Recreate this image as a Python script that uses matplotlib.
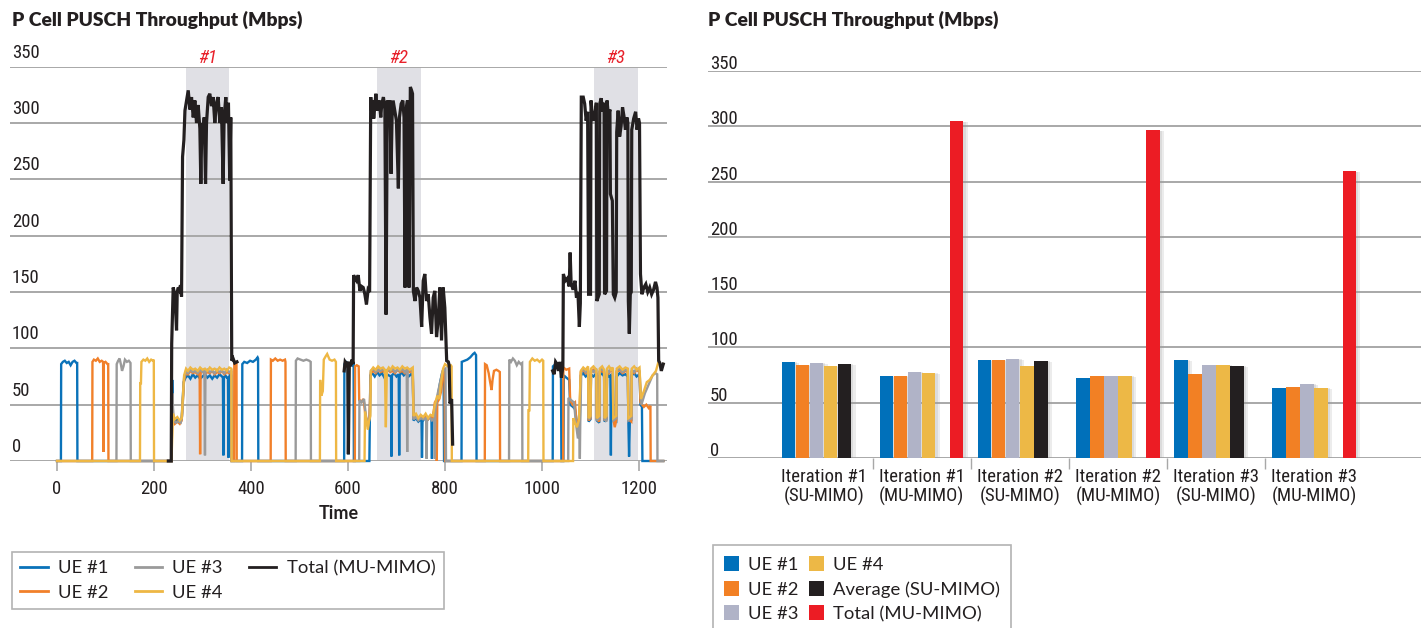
import numpy as np
import matplotlib
matplotlib.use("Agg")
import matplotlib.pyplot as plt
import matplotlib.transforms as mtransforms
import matplotlib.patheffects as pe
from matplotlib import font_manager
from matplotlib.patches import Patch
from matplotlib.lines import Line2D

# ---------------- fonts ----------------
_names = {f.name for f in font_manager.fontManager.ttflist}
def pick(cands):
    for c in cands:
        if c in _names:
            return c
    return "DejaVu Sans"
COND = pick(["Liberation Sans Narrow", "Roboto Condensed", "Open Sans Condensed", "Liberation Sans"])
SANS = pick(["Lato", "Open Sans", "Noto Sans"])

# ---------------- data: left chart (time series) ----------------
ue1 = [(0,0),(8,0),(8.5,86),(12,88),(16,89),(20,87),(24,88),(28,85),(32,88),(36,89),(40,87),(41.5,87),(42,0),
(236,0),(237.5,72),(239,40),(243,36),(248,37),(253,35),(257,38),(261,70),(265,74),(270,76),(275,73),(280,77),(285,74),(290,76),(295,73),(300,75),(305,77),(310,74),(315,76),(320,73),(325,76),(330,74),(335,77),(340,75),(342,74),(343,5),(344,74),(347,76),(350,74),(352.5,74),(353.5,3),(354.5,73),(357,78),(359.5,76),(360,0),
(381.5,0),(382,86),(386,88),(392,87),(398,89),(404,88),(410,90),(413.5,92),(414.5,91),(415,0),
(592,0),(592.5,86),(596,88),(599.5,87),(600.5,6),(601.5,86),(606,87),(610,85),(611.5,86),(612,0),
(644,0),(646,76),(650,78),(655,75),(660,79),(665,76),(670,78),(675,74),(680,77),(684,76),(688.5,75),(689.5,4),(690.5,76),(695,78),(700,75),(704.5,77),(705.5,5),(706.5,76),(710,79),(715,76),(720,78),(725,75),(730,77),(733.5,76),(735,36),(740,38),(745,35),(750,37),(751.5,36),(752.5,3),(753.5,35),(758,38),(763,36),(768,39),(772,37),(773,2),(774,38),(778,45),(782,52),(786,60),(790,70),(794,78),(797,80),(798,0),
(834,0),(834.5,88),(840,89),(846,90),(852,92),(858,95),(861,96),(864,94),(865,0),
(1022,0),(1022.5,84),(1028,86),(1034,84),(1039,85),(1040,0),(1044,0),(1045,76),(1050,74),(1056,72),(1058,50),(1064,48),(1068,46),(1072,34),(1078,36),(1080,76),(1085,78),(1090,75),(1095,77),(1096,35),(1100,37),(1101,77),(1106,75),(1112,78),(1113,36),(1118,34),(1119,76),(1124,78),(1128,75),(1129,35),(1133,37),(1134,77),(1138,75),(1141,76),(1142,5),(1143,74),(1146,76),(1147,36),(1153,35),(1154,75),(1160,78),(1166,76),(1172,77),(1177,75),(1178,36),(1179.5,4),(1181,35),(1184,36),(1185,76),(1190,78),(1195,75),(1201,77),(1203,50),(1206,48),(1207,0),(1250,0)]

ue2 = [(0,0),(72.5,0),(73,88),(76,90),(80,89),(84,91),(88,88),(92,89),(95,88),(95.5,8),(96.5,87),(100,88),(104,86),(105.5,86),(106,0),
(236,0),(238,55),(239.5,38),(243,33),(248,35),(253,33),(257,36),(262,72),(266,79),(270,77),(275,80),(280,78),(285,79),(290,77),(294,78),(295,6),(296,78),(300,80),(305,77),(310,79),(315,78),(320,80),(325,77),(330,79),(335,78),(340,80),(345,77),(350,79),(355,78),(359.5,80),(360,0),
(365,0),(365.5,88),(370,88),(370.5,0),
(440.5,0),(441,90),(445,89),(450,91),(455,89),(460,90),(465,89),(470,90),(471,88),(471.5,0),
(614,0),(614.5,84),(618,85),(622,84),(623,54),(628,53),(632,55),(636,40),(640,35),(644,38),(647,78),(652,80),(657,78),(662,81),(667,79),(672,80),(677,78),(682,81),(687,79),(692,80),(697,78),(702,81),(707,79),(712,80),(717,78),(722,81),(727,79),(733.5,80),(735,38),(740,40),(745,37),(750,39),(755,38),(760,40),(765,37),(770,39),(775,38),(779,52),(782,54),(783,0),(784,52),(788,55),(792,62),(796,80),(799,82),(800,0),
(882,0),(882.5,86),(886,85),(890,78),(893,70),(896,63),(898,72),(901,80),(906,81),(910,80),(913,79),(913.5,0),
(1043.5,0),(1044,83),(1050,81),(1056,82),(1058,54),(1063,50),(1068,52),(1071,34),(1077,37),(1080,79),(1085,81),(1090,78),(1095,80),(1096,36),(1100,38),(1101,79),(1106,81),(1112,78),(1113,37),(1118,35),(1119,79),(1124,80),(1128,78),(1129,36),(1133,38),(1134,80),(1138,78),(1142,81),(1146,79),(1147,37),(1150,30),(1153,36),(1154,79),(1160,81),(1166,78),(1172,80),(1177,79),(1178,37),(1184,35),(1185,80),(1190,78),(1195,81),(1201,79),(1203,52),(1210,48),(1215,50),(1220,47),(1223.5,49),(1224,0),(1250,0)]

ue3 = [(0,0),(122.5,0),(123,86),(126,89),(129,91),(132,85),(134,80),(137,84),(140,90),(144,88),(148,89),(151.5,87),(152,0),
(236,0),(238,60),(240,36),(245,34),(250,35),(255,34),(258,40),(262,74),(266,80),(270,78),(275,81),(280,79),(285,80),(290,78),(295,81),(300,79),(304,80),(305,5),(306,79),(310,81),(315,79),(320,80),(325,78),(330,81),(335,79),(340,80),(345,78),(350,81),(355,79),(359.5,80),(360,0),
(492,0),(492.5,89),(496,91),(502,90),(508,89),(514,90),(520,89),(523,88),(523.5,0),
(623,0),(623.5,54),(628,52),(633,55),(637,40),(641,30),(645,40),(647,80),(652,82),(657,79),(662,81),(667,80),(672,82),(677,79),(682,81),(687,80),(692,82),(697,79),(702,81),(707,80),(712,82),(717,79),(721,81),(722,8),(723,80),(727,81),(733.5,80),(735,37),(740,39),(745,36),(750,38),(755,37),(761,38),(762,2),(763,37),(768,39),(773,36),(778,38),(779,2),(780,45),(785,60),(790,70),(795,80),(801,82),(802,0),
(932,0),(932.5,90),(936,88),(940,91),(944,89),(948,85),(952,88),(956,86),(959,87),(959.5,0),
(1054,0),(1054.5,56),(1060,54),(1066,52),(1070,33),(1074,20),(1077,34),(1078,2),(1079,40),(1081,80),(1085,82),(1090,79),(1095,81),(1096,37),(1100,39),(1101,81),(1106,79),(1112,82),(1113,36),(1118,38),(1119,80),(1124,82),(1128,79),(1129,37),(1133,35),(1134,81),(1138,79),(1142,82),(1146,80),(1147,36),(1153,38),(1154,80),(1160,82),(1166,79),(1172,81),(1177,80),(1178,36),(1184,38),(1185,81),(1190,79),(1195,82),(1201,80),(1205,50),(1212,60),(1220,68),(1228,76),(1234,78),(1237.5,77),(1238,0),(1250,0)]

ue4 = [(0,0),(171,0),(171.5,69),(173,69),(174,88),(178,90),(182,89),(186,91),(190,88),(194,90),(198,89),(199.5,90),(200,0),
(236,0),(239,42),(243,37),(248,39),(253,36),(257,38),(262,76),(266,82),(270,80),(275,83),(280,81),(285,82),(290,80),(295,83),(300,81),(305,82),(310,80),(315,83),(320,81),(325,82),(330,80),(335,83),(340,81),(345,82),(350,80),(355,83),(359.5,82),(360,0),
(542,0),(542.5,72),(545,58),(548,62),(550,90),(554,93),(557,95),(562,90),(567,89),(572,90),(575,88),(575.5,0),
(634,0),(635,44),(638,36),(641,28),(643,35),(646,40),(647,80),(652,83),(657,81),(662,84),(667,82),(672,83),(676,81),(678,30),(680,80),(684,83),(688,81),(692,84),(697,82),(702,83),(707,81),(712,84),(717,82),(722,83),(727,81),(733.5,83),(735,40),(740,42),(745,38),(750,41),(755,39),(760,42),(765,38),(770,41),(775,40),(779,50),(784,58),(788,55),(792,70),(796,82),(800,86),(806,84),(812,85),(813.5,84),(814,0),
(971.5,0),(972,45),(974,45),(975,88),(980,91),(985,89),(990,90),(995,88),(1000,90),(1002.5,89),(1003,0),
(1064,0),(1064.5,38),(1068,34),(1072,30),(1076,36),(1080,80),(1085,83),(1090,81),(1095,84),(1096,38),(1100,40),(1101,82),(1106,84),(1112,81),(1113,38),(1118,40),(1119,82),(1124,84),(1128,81),(1129,38),(1133,40),(1134,82),(1138,84),(1142,81),(1146,83),(1147,38),(1153,40),(1154,82),(1160,84),(1166,81),(1172,83),(1177,82),(1178,38),(1184,40),(1185,82),(1190,84),(1195,81),(1201,83),(1204,55),(1210,62),(1216,70),(1222,72),(1228,76),(1235,80),(1240,88),(1245,84),(1250,86)]

total = [(229.5,0),(235.5,0),(236.4,104),(239.5,154),(241.6,150),(243,148),(246.4,116),(247.8,150),(249.9,154),(251.9,152),(254.6,156),(256.7,146),(258.8,270),(261.6,285),(263.7,311),(267,320),(270.5,329),(274,312),(277.3,323),(280.8,305),(284.2,320),(287.6,300),(291,316),(294.5,295),(296.5,246),(298.6,300),(301.4,290),(303.4,305),(306.2,246),(308.2,300),(311.7,323),(315,326),(318.5,315),(321.9,323),(325.3,300),(328.8,318),(332.2,323),(335.7,300),(339,314),(342.5,246),(344.5,305),(348,323),(350.6,300),(353.4,318),(356.1,249),(358.2,305),(360.2,89),(363,91),(366.4,87),(371,88),
(np.nan,np.nan),
(592,80),(594,88),(597,86),(599.5,88),(600.7,6),(602.7,88),(605,84),(608,90),(610.5,86),(611.5,165),(614.4,162),(617.5,160),(621,165),(624.5,151),(628,155),(631.3,154),(634.7,148),(638,139),(639.5,145),(641.4,152),(644.5,150),(646.8,323),(649,308),(651,320),(653,304),(655.5,317),(657.4,326),(660.5,311),(664.3,320),(667.5,305),(669.5,317),(673,323),(676,312),(678.4,130),(681,320),(684,311),(686.5,320),(688.7,255),(690.8,305),(693,320),(696.5,311),(699.8,302),(703.8,242),(706,305),(709.5,317),(713,320),(715.5,305),(717.5,154),(719.6,311),(722.5,320),(725.8,154),(728.5,332),(731,329),(733,326),(734.7,151),(738,142),(741.4,154),(744.8,151),(748.3,145),(751.8,119),(755,160),(758.4,166),(761.9,142),(765.4,148),(768.8,128),(772.2,113),(775.6,145),(779,151),(782.5,110),(785.9,125),(789.3,154),(792.8,107),(796.2,154),(799.6,136),(803.4,89),(806.8,88),(808.5,85),(810.2,51),(813.6,55),(815.7,15),
(np.nan,np.nan),
(1022,80),(1025,77),(1028,88),(1031,86),(1034,80),(1037,88),(1040,74),(1043,84),(1044,166),(1048,160),(1052,162),(1056,155),(1058,185),(1060,158),(1064,152),(1068,160),(1071,145),(1074,150),(1077,119),(1079,140),(1081,323),(1085,323),(1088,317),(1091,302),(1094,310),(1096,148),(1100,148),(1101,320),(1104,306),(1107,302),(1110,311),(1112,318),(1113,142),(1118,148),(1119,317),(1122,322),(1125,310),(1128,318),(1129,148),(1133,151),(1134,320),(1137,306),(1140,312),(1141,237),(1145,231),(1147,148),(1150,145),(1153,150),(1154,292),(1157,311),(1160,288),(1163,297),(1166,314),(1169,306),(1172,294),(1175,305),(1177,300),(1178,142),(1180,113),(1182,148),(1184,150),(1185,294),(1189,304),(1193,310),(1196,294),(1199,304),(1201,300),(1203,166),(1206,148),(1210,154),(1214,157),(1218,150),(1222,154),(1226,148),(1230,152),(1234,159),(1237,154),(1239,145),(1240.5,89),(1243,87),(1246,80),(1250,86)]

line_labels = ["UE #1", "UE #2", "UE #3", "UE #4", "Total (MU-MIMO)"]
iter_spans = [(265, 355), (660, 750), (1107, 1197)]
iter_names = ["#1", "#2", "#3"]
y_ticks = [0, 50, 100, 150, 200, 250, 300, 350]
x_ticks = [0, 200, 400, 600, 800, 1000, 1200]

# ---------------- data: right chart (bars) ----------------
categories = ["Iteration #1\n(SU-MIMO)", "Iteration #1\n(MU-MIMO)", "Iteration #2\n(SU-MIMO)",
              "Iteration #2\n(MU-MIMO)", "Iteration #3\n(SU-MIMO)", "Iteration #3\n(MU-MIMO)"]
bar_ue1 = [87.1, 74.4, 88.9, 72.6, 88.9, 63.6]
bar_ue2 = [84.4, 74.4, 88.9, 74.4, 76.3, 64.5]
bar_ue3 = [86.2, 78.0, 89.8, 74.4, 84.4, 67.2]
bar_ue4 = [83.5, 77.2, 83.5, 74.4, 84.4, 63.6]
bar_avg = [85.3, np.nan, 88.0, np.nan, 83.5, np.nan]
bar_total = [np.nan, 304.7, np.nan, 296.6, np.nan, 259.5]
bar_labels = ["UE #1", "UE #2", "UE #3", "UE #4", "Average (SU-MIMO)", "Total (MU-MIMO)"]

# ---------------- styles ----------------
line_colors = ["#0a72b9", "#f1802a", "#9a9a9a", "#eeb744", "#231f20"]
bar_colors = ["#0070ba", "#f28024", "#b0b3c7", "#edb846", "#231f20", "#ec1c24"]
GRID = "#a8a8a8"
TXT = "#231f20"

W, H = 1421, 628
fig = plt.figure(figsize=(W / 100, H / 100), dpi=100)
fig.patch.set_facecolor("white")

# ================= LEFT =================
axL = fig.add_axes([10 / W, 1 - 461 / H, 657 / W, (461 - 66.7) / H])
axL.set_xlim(-97, 1257.7)
axL.set_ylim(0, 350)
for s in axL.spines.values():
    s.set_visible(False)
axL.set_yticks(y_ticks)
axL.yaxis.set_tick_params(length=0, labelleft=False)
axL.grid(axis="y", color=GRID, lw=1.4, zorder=0)
axL.set_axisbelow(True)

for (a, b) in iter_spans:
    axL.axvspan(a, b, color="#e0e0e5", lw=0, zorder=0.5)
for (a, b), nm in zip(iter_spans, iter_names):
    axL.text((a + b) / 2, 1.0, nm, transform=mtransforms.blended_transform_factory(axL.transData, axL.transAxes),
             ha="center", va="bottom", color="#e8202a", fontsize=13.5, style="italic", family=COND)

series = [ue1, ue2, ue3, ue4, total]
for i, (ser, col, lab) in enumerate(zip(series, line_colors, line_labels)):
    t, v = zip(*ser)
    axL.plot(t, v, color=col, lw=2.3 if i == 4 else 1.7, label=lab, zorder=2 + i,
             solid_joinstyle="miter", clip_on=False)

offL = mtransforms.offset_copy(mtransforms.blended_transform_factory(axL.transAxes, axL.transData),
                               fig=fig, x=0, y=3.5, units="points")
for yv in y_ticks:
    axL.text(0.003, yv, str(yv), transform=offL, ha="left", va="bottom", fontsize=13.5, family=COND,
             color=TXT)

axL.set_xticks(x_ticks)
axL.set_xticklabels([str(x) for x in x_ticks], family=COND, fontsize=13.5, color=TXT)
axL.tick_params(axis="x", length=7, width=1.2, color=GRID, pad=7)
axL.set_xlabel("Time", family=SANS, fontweight="bold", fontsize=13, labelpad=5, color=TXT)

fig.text(12 / W, 1 - 20 / H, "P Cell PUSCH Throughput (Mbps)", ha="left", va="center",
         family=SANS, fontweight=800, fontsize=13.9, color=TXT)

handlesL = [Line2D([], [], color=c, lw=2) for c in line_colors]
legL = fig.legend(handlesL, line_labels, loc="upper left", bbox_to_anchor=(12 / W, 1 - 552 / H),
                  ncol=3, frameon=True, fancybox=False, prop={"family": SANS, "size": 13.3},
                  handlelength=1.5, handletextpad=0.55, columnspacing=1.4, labelspacing=0.45,
                  borderpad=0.45, borderaxespad=0)
legL.get_frame().set_edgecolor("#a0a0a0")
legL.get_frame().set_linewidth(1.2)
for txt in legL.get_texts():
    txt.set_color(TXT)

# ================= RIGHT =================
axR = fig.add_axes([708 / W, 1 - 458 / H, 713 / W, 387.1 / H])
axR.set_xlim(-1.18, 6.09)
axR.set_ylim(0, 350)
for s in axR.spines.values():
    s.set_visible(False)
axR.set_yticks(y_ticks)
axR.yaxis.set_tick_params(length=0, labelleft=False)
axR.grid(axis="y", color=GRID, lw=1.4, zorder=0)
axR.set_axisbelow(True)

slot = 1 / 7
bw = 0.135
xs = np.arange(len(categories))
bar_series = [bar_ue1, bar_ue2, bar_ue3, bar_ue4, bar_avg, bar_total]
shadow = [pe.SimplePatchShadow(offset=(3, -1), shadow_rgbFace="#9a9a9a", alpha=0.18),
          pe.SimplePatchShadow(offset=(1.5, -0.5), shadow_rgbFace="#9a9a9a", alpha=0.2),
          pe.Normal()]
for k, (vals, col, lab) in enumerate(zip(bar_series, bar_colors, bar_labels)):
    bars = axR.bar(xs + (k - 2.5) * slot, vals, width=bw, color=col, label=lab, zorder=3, lw=0)
    for b in bars:
        b.set_path_effects(shadow)

offR = mtransforms.offset_copy(mtransforms.blended_transform_factory(axR.transAxes, axR.transData),
                               fig=fig, x=0, y=-1.5, units="points")
for yv in y_ticks:
    axR.text(0.003, yv, str(yv), transform=offR, ha="left", va="bottom", fontsize=13.5, family=COND,
             color=TXT)

axR.set_xticks(xs)
axR.set_xticklabels(categories, family=COND, fontsize=13.5, color=TXT, linespacing=1.1)
axR.tick_params(axis="x", which="major", length=0, pad=7)
axR.set_xticks(xs[:-1] + 0.5, minor=True)
axR.tick_params(axis="x", which="minor", length=8, width=1.0, color=GRID)

fig.text(708 / W, 1 - 20 / H, "P Cell PUSCH Throughput (Mbps)", ha="left", va="center",
         family=SANS, fontweight=800, fontsize=13.9, color=TXT)

handlesR = [Patch(facecolor=c, edgecolor="none") for c in bar_colors]
legR = fig.legend(handlesR, bar_labels, loc="upper left", bbox_to_anchor=(713 / W, 1 - 545 / H),
                  ncol=2, frameon=True, fancybox=False, prop={"family": SANS, "size": 13.3},
                  handlelength=0.8, handleheight=0.9, handletextpad=0.5, columnspacing=0.55,
                  labelspacing=0.4, borderpad=0.6, borderaxespad=0)
legR.get_frame().set_edgecolor("#a0a0a0")
legR.get_frame().set_linewidth(1.2)
for txt in legR.get_texts():
    txt.set_color(TXT)

fig.savefig("out.png", dpi=100, facecolor="white")
